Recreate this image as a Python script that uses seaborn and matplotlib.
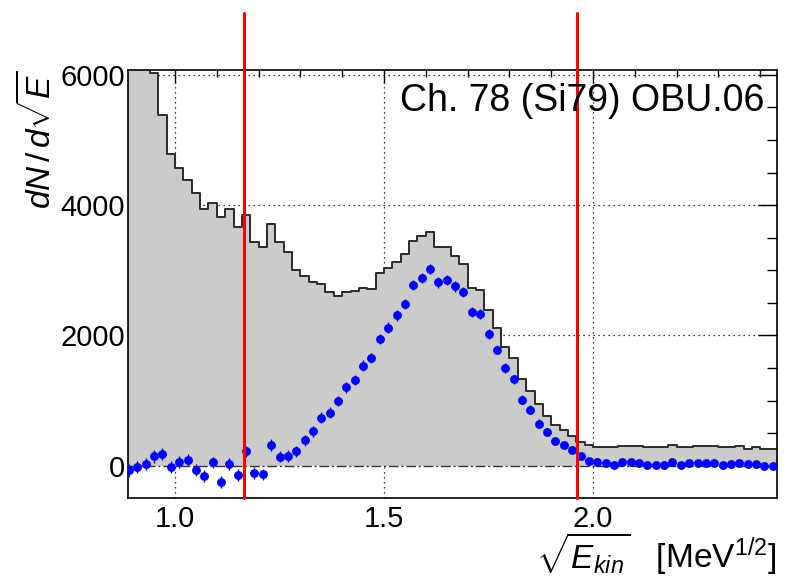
import numpy as np
import pandas as pd
import matplotlib
matplotlib.use("Agg")
import matplotlib.pyplot as plt
import seaborn as sns
from matplotlib.ticker import MultipleLocator, FixedLocator

# histogram bin edges in sqrt(E_kin), 0.02 wide
edges = [round(0.88 + 0.02 * i, 2) for i in range(79)]
centers = [round(e + 0.01, 2) for e in edges[:-1]]

# grey histogram (counts per bin), first bins are clipped by the frame
hist_counts = [7200, 6900, 6600, 6030, 5390, 4782, 4572, 4383, 4189, 3934,
               4036, 3821, 3939, 3668, 3842, 3438, 3356, 3704, 3438, 3280,
               3004, 2912, 2820, 2794, 2662, 2605, 2662, 2682, 2728, 2713,
               2953, 3030, 3132, 3244, 3453, 3530, 3591, 3356, 3356, 3223,
               3091, 2733, 2697, 2391, 2120, 1829, 1655, 1328, 1149, 945,
               771, 618, 552, 455, 372, 318, 286, 286, 286, 306,
               306, 306, 286, 286, 286, 322, 286, 286, 301, 301,
               301, 286, 286, 306, 260, 286, 260, 260]

# blue points (background subtracted) and their errors
pts = [-72, -20, 31, 143, 184, -20, 51, 82, -72, -153,
       51, -245, 26, -138, 219, -112, -133, 317, 138, 153,
       219, 388, 526, 740, 817, 996, 1206, 1318, 1537, 1655,
       1946, 2120, 2309, 2483, 2774, 2886, 3024, 2815, 2851, 2754,
       2662, 2365, 2330, 2018, 1782, 1502, 1328, 1016, 863, 648,
       516, 383, 325, 240, 153, 72, 56, 36, 15, 56,
       56, 36, 10, 10, 10, 61, 10, 36, 36, 36,
       36, 10, 20, 36, 20, 20, -5, -5]
errs = [95, 95, 95, 95, 95, 95, 92, 92, 92, 92,
        90, 90, 90, 90, 90, 88, 88, 88, 88, 88,
        85, 85, 85, 85, 85, 82, 82, 82, 82, 80,
        80, 80, 80, 80, 80, 80, 80, 80, 80, 80,
        78, 78, 78, 76, 74, 72, 70, 68, 66, 64,
        62, 60, 58, 56, 55, 54, 54, 53, 53, 53,
        53, 53, 53, 53, 53, 53, 53, 53, 53, 53,
        53, 53, 53, 53, 53, 53, 53, 53]

cut_lo, cut_hi = 1.1657, 1.9627
title = "Ch. 78 (Si79) OBU.06"

df = pd.DataFrame({"x": centers, "n": hist_counts, "y": pts, "err": errs})

sns.set_style("white")
plt.rcParams["font.family"] = ["Liberation Sans", "DejaVu Sans"]
plt.rcParams["mathtext.fontset"] = "custom"
plt.rcParams["mathtext.rm"] = "Liberation Sans"
plt.rcParams["mathtext.it"] = "Liberation Sans:italic"
plt.rcParams["mathtext.bf"] = "Liberation Sans:bold"
for key in ["text.color", "axes.labelcolor", "xtick.color", "ytick.color",
            "xtick.labelcolor", "ytick.labelcolor"]:
    plt.rcParams[key] = "black"

fig = plt.figure(figsize=(7.86, 5.8), dpi=100)
ax = fig.add_axes([128 / 786, 1 - 498 / 580, (777 - 128) / 786, (498 - 70) / 580])

# grid behind everything
for gx in [1.0, 1.5, 2.0]:
    ax.axvline(gx, color="black", lw=0.9, ls=(0, (1, 3)), zorder=0)
for gy in [2000, 4000, 6000]:
    ax.axhline(gy, color="black", lw=0.9, ls=(0, (1, 3)), zorder=0)

# filled histogram, outline drawn separately so the baseline stays open
sns.histplot(data=df, x="x", weights="n", bins=edges, element="step", fill=True,
             facecolor="#cbcbcb", edgecolor="none", linewidth=0, alpha=1,
             ax=ax, zorder=1)
sns.histplot(data=df, x="x", weights="n", bins=edges, element="step", fill=False,
             color="#2b2b2b", linewidth=1.4, ax=ax, zorder=1.5)

ax.axhline(0, color="#333333", lw=1.0, ls=(0, (7, 2, 1.5, 2)), zorder=2)

ax.errorbar(df["x"], df["y"], yerr=df["err"], fmt="none", ecolor="blue",
            elinewidth=1.0, capsize=0, zorder=3)
sns.scatterplot(data=df, x="x", y="y", marker="o", s=34, color="blue",
                edgecolor="blue", linewidth=0.5, ax=ax, zorder=4)

for cx in [cut_lo, cut_hi]:
    ax.plot([cx, cx], [-495, 6950], color="red", lw=2.2, zorder=5, clip_on=False)

ax.set_xlim(0.8876, 2.44)
ax.set_ylim(-495, 6075)

ax.xaxis.set_major_locator(FixedLocator([1.0, 1.5, 2.0]))
ax.xaxis.set_minor_locator(MultipleLocator(0.1))
ax.yaxis.set_major_locator(FixedLocator([0, 2000, 4000, 6000]))
ax.yaxis.set_minor_locator(MultipleLocator(500))
ax.set_xticklabels(["1.0", "1.5", "2.0"])
ax.set_yticklabels(["0", "2000", "4000", "6000"])

ax.tick_params(axis="both", which="both", direction="in", top=True, right=True,
               color="black", labelcolor="black", width=1.0, labelsize=21)
ax.tick_params(axis="y", which="major", length=14, pad=2)
ax.tick_params(axis="y", which="minor", length=7)
ax.tick_params(axis="x", which="major", length=9.5, pad=5)
ax.tick_params(axis="x", which="minor", length=4.8)

for sp in ax.spines.values():
    sp.set_color("black")
    sp.set_linewidth(1.2)

ax.set_xlabel(r"$\sqrt{E_{kin}}$   [MeV$^{1/2}$]", fontsize=24, loc="right",
              labelpad=-2, color="black")
ax.set_ylabel(r"$dN\,/\,d\sqrt{E}$", fontsize=24, loc="top", labelpad=2,
              color="black")

ax.text(0.98, 0.905, title, transform=ax.transAxes, ha="right", va="baseline",
        fontsize=27, color="black", zorder=6)

fig.savefig("out.png", dpi=100)
